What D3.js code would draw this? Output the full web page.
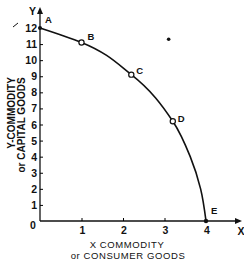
<!DOCTYPE html>
<html>
<head>
<style>
body { margin: 0; background: #fff; }
text { font-family: "Liberation Sans", Arial, sans-serif; fill: #111; }
.num { font-size: 10.5px; font-weight: bold; }
.lbl { font-size: 9.5px; letter-spacing: 0.6px; }
.ylbl { font-family: "Liberation Sans Narrow", "Liberation Sans", sans-serif; font-size: 10px; font-weight: bold; }
.pt { font-size: 9.5px; font-weight: bold; }
</style>
<script src="https://cdn.jsdelivr.net/npm/d3@7"></script>
</head>
<body>
<svg width="244" height="262"></svg>
<script>
// production possibilities points
var pointNames = ["A", "B", "C", "D", "E"];
var xValues = [0, 1, 2.2, 3.2, 4];
var yValues = [12, 11.1, 9.1, 6.2, 0];
var curveX = [0, 1, 2.2, 3.2, 3.62, 3.87, 4];
var curveY = [12, 11.1, 9.1, 6.2, 4, 2, 0];
var xTicks = [1, 2, 3, 4];
var yTicks = [1, 2, 3, 4, 5, 6, 7, 8, 9, 10, 11, 12];
var outsidePoint = [3.1, 11.3];

var svg = d3.select("svg");
var x = d3.scaleLinear().domain([0, 4]).range([40, 206]);
var y = d3.scaleLinear().domain([0, 12]).range([221, 28]);

// axes
var g = svg.append("g");
g.append("line").attr("x1", x(0)).attr("y1", y(0)).attr("x2", 236).attr("y2", y(0))
  .attr("stroke", "#111").attr("stroke-width", 1.3);
g.append("path").attr("d", "M235," + (y(0) - 3) + "L242," + y(0) + "L235," + (y(0) + 3) + "Z").attr("fill", "#111");
g.append("line").attr("x1", x(0)).attr("y1", y(0)).attr("x2", x(0)).attr("y2", 12)
  .attr("stroke", "#111").attr("stroke-width", 1.3);
g.append("path").attr("d", "M" + (x(0) - 3) + ",14L" + x(0) + ",7L" + (x(0) + 3) + ",14Z").attr("fill", "#111");

var yAxis = g.append("g").attr("transform", "translate(" + x(0) + ",0)")
  .call(d3.axisRight(y).tickValues(yTicks).tickSize(3).tickFormat(""));
yAxis.select(".domain").remove();
yTicks.forEach(function(t) {
  g.append("text").attr("class", "num").attr("x", 37).attr("y", y(t) + 4)
    .attr("text-anchor", "end").text(t);
});
g.append("text").attr("class", "num").attr("x", 33).attr("y", 229).attr("text-anchor", "middle").text("0");

var xAxis = g.append("g").attr("transform", "translate(0," + y(0) + ")")
  .call(d3.axisTop(x).tickValues(xTicks.slice(0, 3)).tickSize(3).tickFormat(""));
xAxis.select(".domain").remove();
xTicks.forEach(function(t) {
  g.append("text").attr("class", "num").attr("x", x(t) + 1).attr("y", 234)
    .attr("text-anchor", "middle").text(t);
});

// axis letters
svg.append("text").attr("class", "num").attr("x", 36).attr("y", 15).attr("text-anchor", "end").text("Y");
svg.append("text").attr("class", "num").attr("x", 241).attr("y", 235).attr("text-anchor", "middle").text("X");
svg.append("line").attr("x1", 13).attr("y1", 27).attr("x2", 18).attr("y2", 23)
  .attr("stroke", "#111").attr("stroke-width", 1);

// axis titles
svg.append("text").attr("class", "ylbl").attr("text-anchor", "middle")
  .attr("transform", "translate(15,113) rotate(-90)").text("Y-COMMODITY");
svg.append("text").attr("class", "ylbl").attr("text-anchor", "middle")
  .attr("transform", "translate(25,125) rotate(-90)").text("or CAPITAL GOODS");
svg.append("text").attr("class", "lbl").attr("x", 127).attr("y", 248)
  .attr("text-anchor", "middle").text("X COMMODITY");
svg.append("text").attr("class", "lbl").attr("x", 128).attr("y", 259)
  .attr("text-anchor", "middle").text("or CONSUMER GOODS");

// curve
var pts = xValues.map(function(v, i) { return [v, yValues[i]]; });
var cpts = curveX.map(function(v, i) { return [v, curveY[i]]; });
var line = d3.line().x(function(d) { return x(d[0]); }).y(function(d) { return y(d[1]); })
  .curve(d3.curveMonotoneY);
svg.append("path").datum(cpts).attr("d", line)
  .attr("fill", "none").attr("stroke", "#111").attr("stroke-width", 1.6);

// point markers
svg.selectAll(".mk").data(pts.slice(1, 4)).enter().append("circle")
  .attr("cx", function(d) { return x(d[0]); }).attr("cy", function(d) { return y(d[1]); })
  .attr("r", 2.6).attr("fill", "#fff").attr("stroke", "#111").attr("stroke-width", 1.2);
svg.append("circle").attr("cx", x(0)).attr("cy", y(12)).attr("r", 2).attr("fill", "#111");
svg.append("circle").attr("cx", x(4)).attr("cy", y(0)).attr("r", 2.2).attr("fill", "#111");
svg.append("circle").attr("cx", x(outsidePoint[0])).attr("cy", y(outsidePoint[1])).attr("r", 1.8).attr("fill", "#111");

var offs = [[5, -5], [6, -2], [5, -1], [5, 1], [5, -7]];
svg.selectAll(".pt").data(pointNames).enter().append("text").attr("class", "pt")
  .attr("x", function(d, i) { return x(xValues[i]) + offs[i][0]; })
  .attr("y", function(d, i) { return y(yValues[i]) + offs[i][1]; })
  .text(function(d) { return d; });
</script>
</body>
</html>
